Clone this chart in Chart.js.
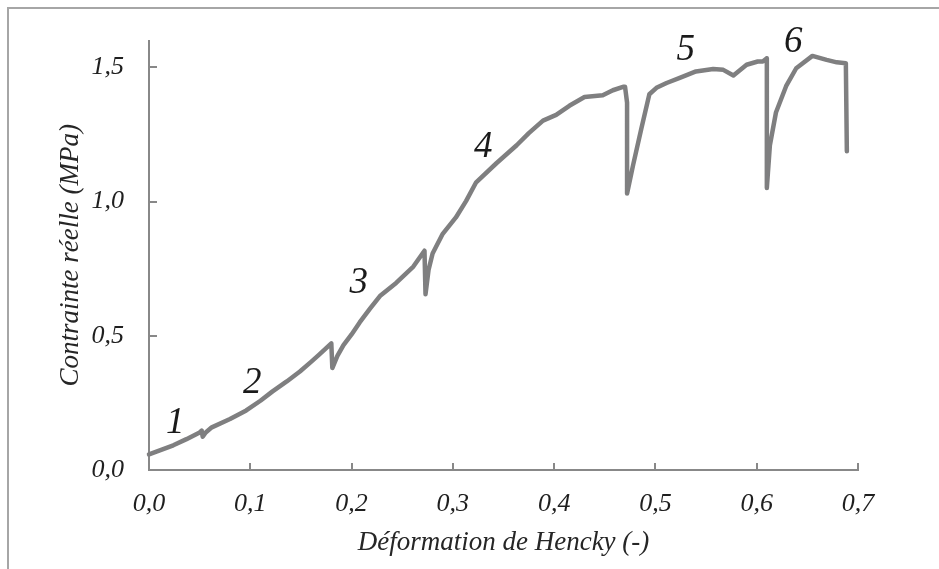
<!DOCTYPE html>
<html>
<head>
<meta charset="utf-8">
<script src="https://cdn.jsdelivr.net/npm/chart.js@4.4.1/dist/chart.umd.min.js"></script>
<style>
  html, body { margin: 0; padding: 0; background: #ffffff; }
  canvas { display: block; }
</style>
</head>
<body>
<canvas id="chart" width="939" height="569"></canvas>
<script>
// Hencky strain (-) and true stress (MPa) of the loading curve
const strain = [
  0.000, 0.012, 0.024, 0.037, 0.050, 0.052, 0.053, 0.056, 0.062, 0.080,
  0.096, 0.110, 0.122, 0.136, 0.149, 0.160, 0.168, 0.180, 0.181, 0.186,
  0.192, 0.200, 0.208, 0.218, 0.228, 0.244, 0.261, 0.272, 0.273, 0.276,
  0.280, 0.290, 0.303, 0.313, 0.323, 0.343, 0.363, 0.375, 0.389, 0.402,
  0.415, 0.430, 0.448, 0.458, 0.468, 0.470, 0.472, 0.472, 0.478, 0.486,
  0.494, 0.501, 0.511, 0.524, 0.540, 0.557, 0.567, 0.577, 0.590, 0.601,
  0.606, 0.610, 0.610, 0.613, 0.619, 0.629, 0.639, 0.655, 0.669, 0.679,
  0.688, 0.689
];
const stress = [
  0.058, 0.075, 0.092, 0.115, 0.140, 0.147, 0.124, 0.140, 0.159, 0.190,
  0.222, 0.258, 0.293, 0.330, 0.367, 0.403, 0.430, 0.472, 0.380, 0.425,
  0.465, 0.505, 0.550, 0.600, 0.648, 0.697, 0.758, 0.817, 0.655, 0.745,
  0.807, 0.880, 0.941, 1.002, 1.072, 1.143, 1.210, 1.255, 1.302, 1.323,
  1.357, 1.390, 1.396, 1.415, 1.428, 1.428, 1.369, 1.030, 1.137, 1.271,
  1.400, 1.424, 1.442, 1.461, 1.485, 1.494, 1.491, 1.470, 1.510, 1.522,
  1.522, 1.534, 1.051, 1.210, 1.332, 1.430, 1.497, 1.543, 1.528, 1.519,
  1.516, 1.188
];

// Axis tick values
const xTickValues = [0, 0.1, 0.2, 0.3, 0.4, 0.5, 0.6, 0.7];
const yTickValues = [0, 0.5, 1.0, 1.5];

// Stage numbers written along the curve (x centre, baseline y in data units)
const stageText = ['1', '2', '3', '4', '5', '6'];
const stageX = [0.026, 0.102, 0.207, 0.330, 0.530, 0.636];
const stageY = [0.1375, 0.286, 0.660, 1.166, 1.529, 1.558];

const FONT = "'Liberation Serif', serif";
const AXIS_GREY = '#888888';
const comma = v => Number(v).toFixed(1).replace('.', ',');

const points = strain.map((x, i) => ({ x: x, y: stress[i] }));

const decorations = {
  id: 'decorations',
  beforeDraw(chart) {
    const ctx = chart.ctx;
    ctx.save();
    ctx.fillStyle = '#ffffff';
    ctx.fillRect(0, 0, chart.width, chart.height);
    // frame around the figure
    ctx.strokeStyle = '#a6a6a6';
    ctx.lineWidth = 2;
    ctx.beginPath();
    ctx.moveTo(8, chart.height + 2);
    ctx.lineTo(8, 8);
    ctx.lineTo(chart.width + 2, 8);
    ctx.stroke();
    ctx.restore();
  },
  afterDraw(chart) {
    const ctx = chart.ctx;
    const xs = chart.scales.x, ys = chart.scales.y;
    ctx.save();
    // inward tick marks
    ctx.strokeStyle = AXIS_GREY;
    ctx.lineWidth = 2;
    ctx.beginPath();
    xTickValues.forEach(v => {
      const px = Math.round(xs.getPixelForValue(v));
      ctx.moveTo(px, ys.bottom);
      ctx.lineTo(px, ys.bottom - 7);
    });
    yTickValues.forEach(v => {
      const py = Math.round(ys.getPixelForValue(v));
      ctx.moveTo(xs.left, py);
      ctx.lineTo(xs.left + 8, py);
    });
    ctx.stroke();
    // stage numbers
    ctx.fillStyle = '#1a1a1a';
    ctx.font = 'italic 37px ' + FONT;
    ctx.textAlign = 'center';
    ctx.textBaseline = 'alphabetic';
    stageText.forEach((t, i) => {
      ctx.fillText(t, xs.getPixelForValue(stageX[i]), ys.getPixelForValue(stageY[i]));
    });
    ctx.restore();
  }
};

new Chart(document.getElementById('chart'), {
  type: 'scatter',
  data: {
    datasets: [{
      data: points,
      showLine: true,
      borderColor: '#7f7f80',
      borderWidth: 4.5,
      pointRadius: 0,
      pointHoverRadius: 0,
      tension: 0,
      borderJoinStyle: 'round',
      borderCapStyle: 'round',
      clip: false
    }]
  },
  options: {
    responsive: false,
    animation: false,
    devicePixelRatio: 1,
    layout: { padding: { left: 0, top: 35, right: 81, bottom: 0 } },
    plugins: { legend: { display: false }, tooltip: { enabled: false } },
    scales: {
      x: {
        type: 'linear',
        min: 0,
        max: 0.7,
        afterBuildTicks: s => { s.ticks = xTickValues.map(v => ({ value: v })); },
        afterFit: s => { s.height = 99; },
        grid: { display: false, drawTicks: false },
        border: { display: true, color: AXIS_GREY, width: 2 },
        ticks: {
          padding: 19,
          color: '#1f1f1f',
          font: { family: FONT, size: 26, style: 'italic' },
          callback: v => comma(v),
          maxRotation: 0
        },
        title: {
          display: true,
          text: 'Déformation de Hencky (-)',
          color: '#262626',
          font: { family: FONT, size: 27, style: 'italic' },
          padding: { top: 0, bottom: 9.5 }
        }
      },
      y: {
        type: 'linear',
        min: 0,
        max: 1.6,
        afterBuildTicks: s => { s.ticks = yTickValues.map(v => ({ value: v })); },
        afterFit: s => { s.width = 149; },
        grid: { display: false, drawTicks: false },
        border: { display: true, color: AXIS_GREY, width: 2 },
        ticks: {
          padding: 25,
          color: '#1f1f1f',
          font: { family: FONT, size: 26, style: 'italic' },
          callback: v => comma(v)
        },
        title: {
          display: true,
          text: 'Contrainte réelle (MPa)',
          color: '#262626',
          font: { family: FONT, size: 27, style: 'italic' },
          padding: { top: 55, bottom: 0 }
        }
      }
    }
  },
  plugins: [decorations]
});
</script>
</body>
</html>
